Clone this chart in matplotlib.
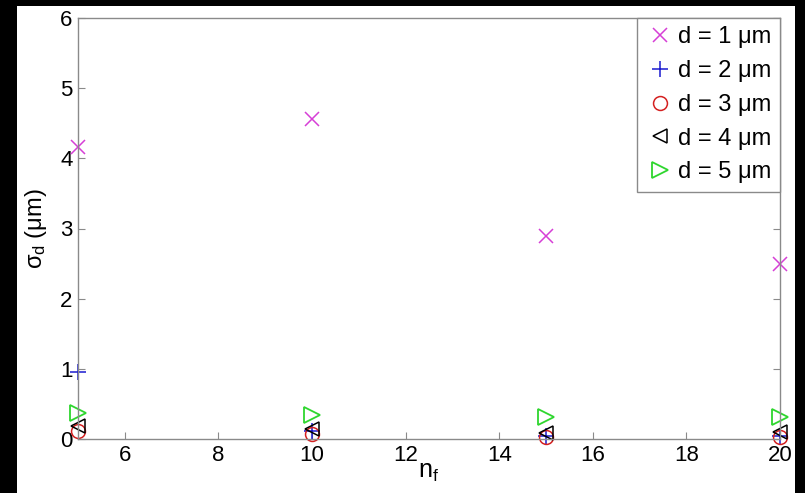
import numpy as np
import matplotlib
matplotlib.use("Agg")
import matplotlib.pyplot as plt
from matplotlib.patches import Rectangle

# number of fibres on the x axis
n_f = [5, 10, 15, 20]

# sigma_d values (um) for each fibre diameter
sigma_d1 = [4.16, 4.56, 2.89, 2.49]
sigma_d2 = [0.96, 0.12, 0.04, 0.04]
sigma_d3 = [0.12, 0.07, 0.03, 0.03]
sigma_d4 = [0.18, 0.14, 0.09, 0.1]
sigma_d5 = [0.37, 0.34, 0.31, 0.31]

labels = ["d = 1 \u03bcm", "d = 2 \u03bcm", "d = 3 \u03bcm", "d = 4 \u03bcm", "d = 5 \u03bcm"]

plt.rcParams["font.family"] = ["Liberation Sans", "DejaVu Sans"]
plt.rcParams["mathtext.fontset"] = "custom"
plt.rcParams["mathtext.rm"] = "Liberation Sans"
plt.rcParams["mathtext.it"] = "Liberation Sans"

axis_grey = "#8a8a8a"

fig = plt.figure(figsize=(8.05, 4.93), dpi=100, facecolor="black")
# white canvas area (screenshot has a black border on top/left/right)
fig.add_artist(Rectangle((17 / 805, 0), (795 - 17) / 805, (493 - 6) / 493,
                         transform=fig.transFigure, facecolor="white",
                         edgecolor="none", zorder=-1))

ax = fig.add_axes([78 / 805, 54 / 493, 702 / 805, 421 / 493])

series = [sigma_d1, sigma_d2, sigma_d3, sigma_d4, sigma_d5]
styles = [
    dict(marker="x", color="#d63fd6", ms=10, mew=1.1),
    dict(marker="+", color="#1a1ad0", ms=12, mew=1.1),
    dict(marker="o", color="#d42020", ms=10, mew=1.1, mfc="none"),
    dict(marker="<", color="black", ms=10, mew=1.1, mfc="none"),
    dict(marker=">", color="#2ed62e", ms=11, mew=1.3, mfc="none"),
]

for vals, st, lab in zip(series, styles, labels):
    ax.plot(n_f, vals, linestyle="none", label=lab, clip_on=False, **st)

ax.set_xlim(5, 20)
ax.set_ylim(0, 6)
ax.set_xticks(np.arange(6, 21, 2))
ax.set_yticks(np.arange(0, 7, 1))

for sp in ax.spines.values():
    sp.set_color(axis_grey)
    sp.set_linewidth(1.0)
ax.tick_params(direction="in", length=5, color=axis_grey, labelsize=16,
               labelcolor="black", top=False, right=True, pad=4)

ax.set_xlabel("n$_\\mathrm{f}$", fontsize=18, labelpad=-4)
ax.set_ylabel("$\\sigma_\\mathrm{d}$ (\u03bcm)", fontsize=17, labelpad=8)

leg = ax.legend(loc="upper right", borderaxespad=0, fontsize=17,
                fancybox=False, framealpha=1, edgecolor=axis_grey,
                handletextpad=0.2, handlelength=1.2, labelspacing=0.5,
                borderpad=0.35, numpoints=1)
leg.get_frame().set_linewidth(1.0)

fig.savefig("out.png", dpi=100, facecolor=fig.get_facecolor())
